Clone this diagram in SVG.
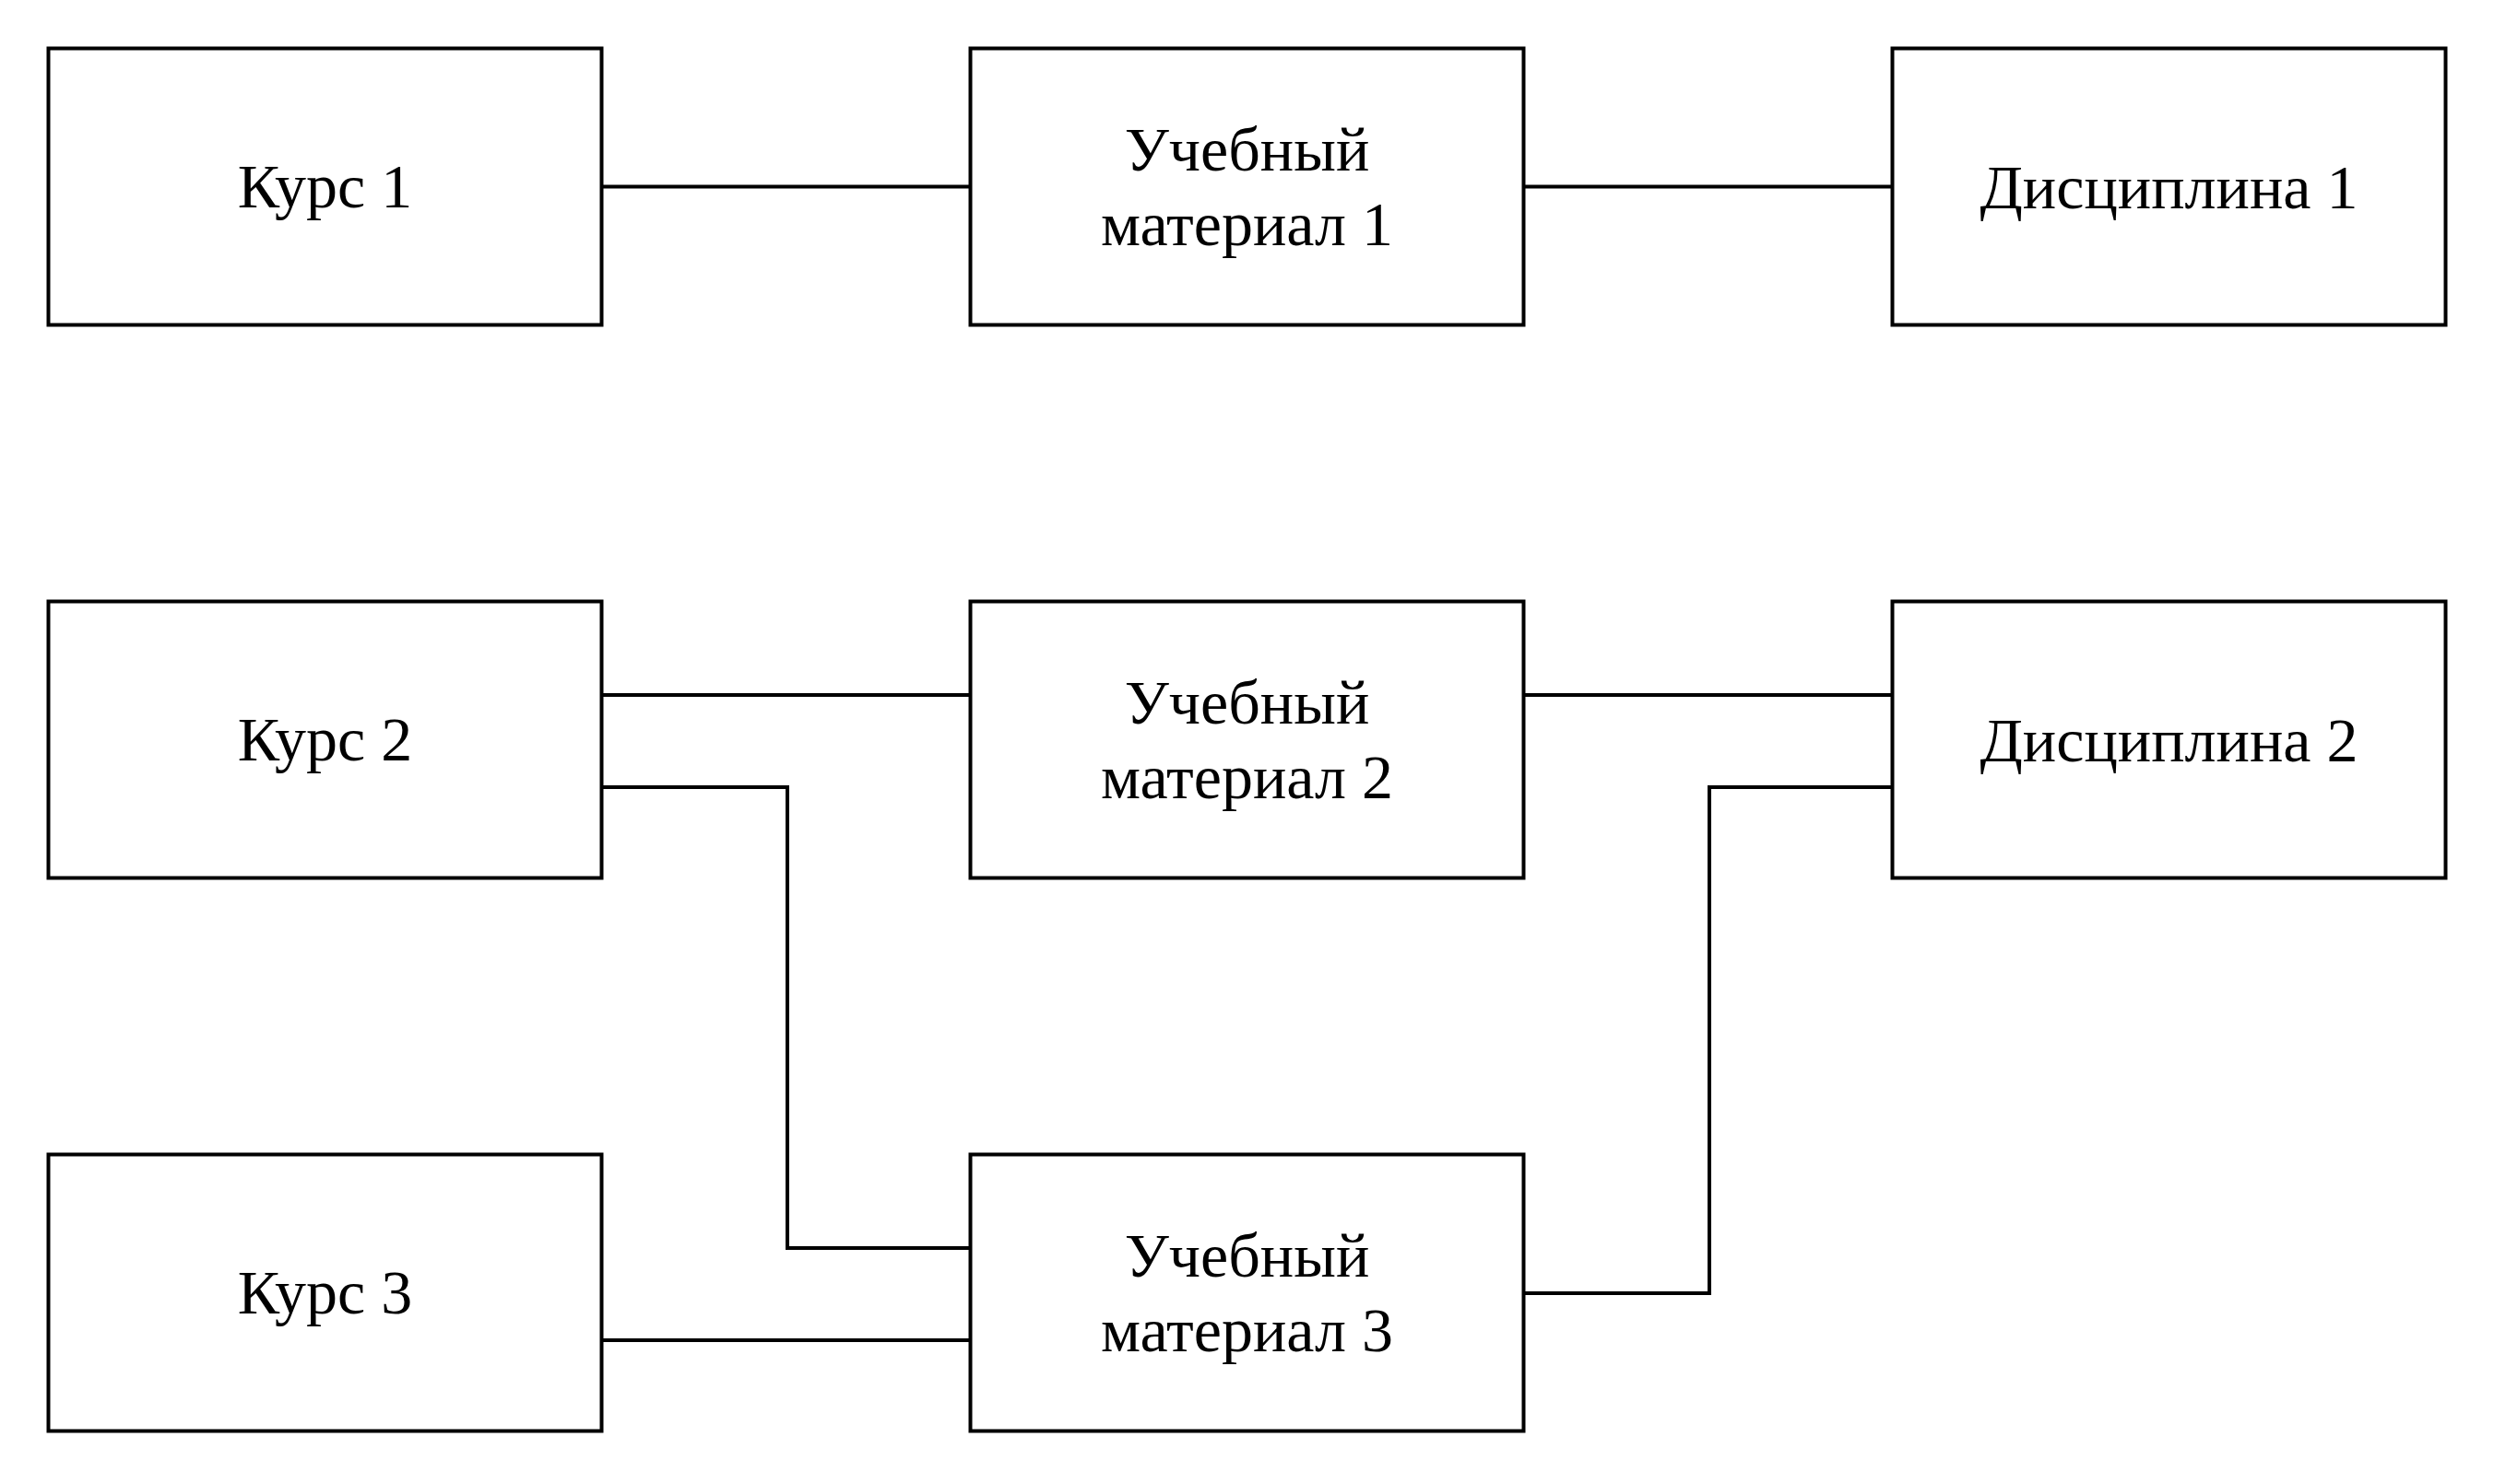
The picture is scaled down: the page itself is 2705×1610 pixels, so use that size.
<svg xmlns="http://www.w3.org/2000/svg" width="2705" height="1610" viewBox="0 0 2705 1610">
<style>
.box{fill:#fff;stroke:#000;stroke-width:4}
.lbl{font-family:"Liberation Serif","Times New Roman",serif;font-size:68px;fill:#000;text-anchor:middle}
.conn{fill:none;stroke:#000;stroke-width:4}
</style>
<rect width="2705" height="1610" fill="#fff"/>
<g id="connectors">
<path class="conn" d="M652.5,202.5H1052.5"/>
<path class="conn" d="M1652.5,202.5H2052.5"/>
<path class="conn" d="M652.5,754H1052.5"/>
<path class="conn" d="M652.5,854H854V1354H1052.5"/>
<path class="conn" d="M652.5,1454H1052.5"/>
<path class="conn" d="M1652.5,754H2052.5"/>
<path class="conn" d="M1652.5,1403H1854V854H2052.5"/>
</g>
<g id="kurs1"><rect class="box" x="52.5" y="52.5" width="600" height="300"/><text class="lbl" x="352.5" y="225">Курс 1</text></g>
<g id="material1"><rect class="box" x="1052.5" y="52.5" width="600" height="300"/><text class="lbl" x="1352.5" y="185">Учебный</text><text class="lbl" x="1352.5" y="265.5">материал 1</text></g>
<g id="disc1"><rect class="box" x="2052.5" y="52.5" width="600" height="300"/><text class="lbl" x="2352.5" y="226">Дисциплина 1</text></g>
<g id="kurs2"><rect class="box" x="52.5" y="652.5" width="600" height="300"/><text class="lbl" x="352.5" y="825">Курс 2</text></g>
<g id="material2"><rect class="box" x="1052.5" y="652.5" width="600" height="300"/><text class="lbl" x="1352.5" y="785">Учебный</text><text class="lbl" x="1352.5" y="865.5">материал 2</text></g>
<g id="disc2"><rect class="box" x="2052.5" y="652.5" width="600" height="300"/><text class="lbl" x="2352.5" y="826">Дисциплина 2</text></g>
<g id="kurs3"><rect class="box" x="52.5" y="1252.5" width="600" height="300"/><text class="lbl" x="352.5" y="1425">Курс 3</text></g>
<g id="material3"><rect class="box" x="1052.5" y="1252.5" width="600" height="300"/><text class="lbl" x="1352.5" y="1385">Учебный</text><text class="lbl" x="1352.5" y="1465.5">материал 3</text></g>
</svg>
